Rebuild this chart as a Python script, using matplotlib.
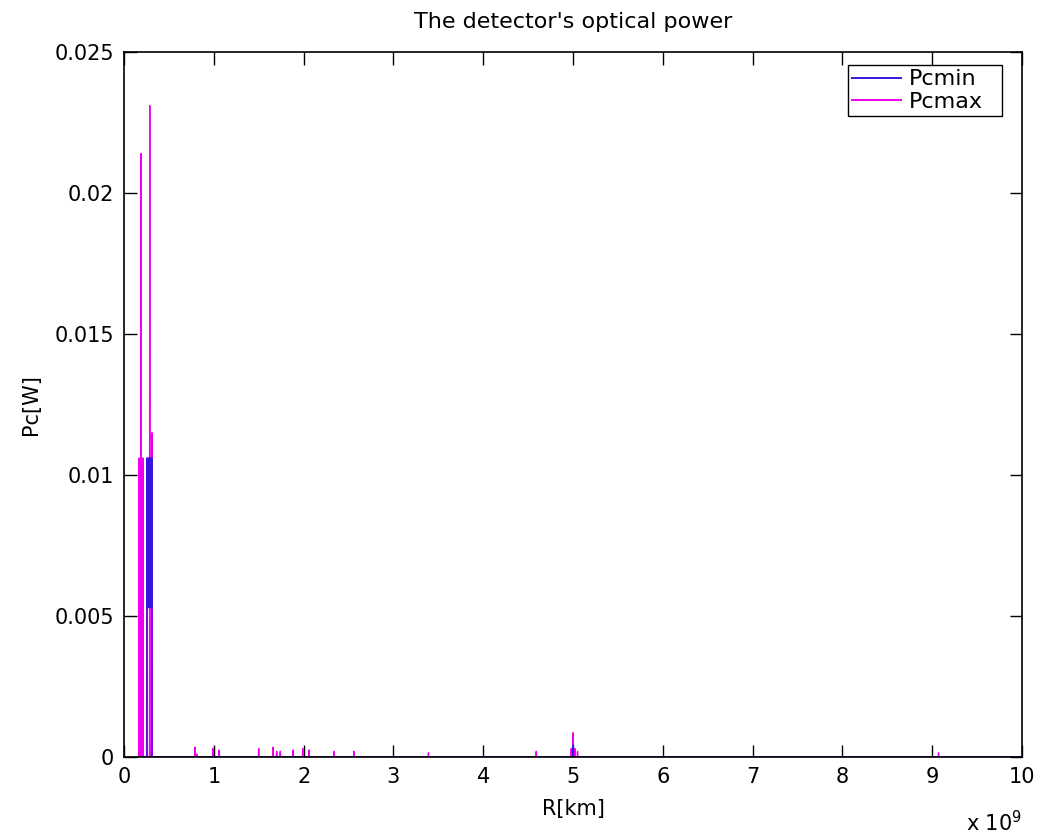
import matplotlib
matplotlib.use("Agg")
import matplotlib.pyplot as plt
from matplotlib.ticker import FuncFormatter

plt.rcParams['font.family'] = ['DejaVu Sans']

# R values in units of 1e9 km, power in W
r_pcmax = [0.150, 0.164, 0.166, 0.172, 0.178, 0.184, 0.189, 0.194, 0.200, 0.206, 0.212, 0.215,
           0.251, 0.254, 0.257, 0.284, 0.2865, 0.289, 0.308, 0.311, 0.314,
           0.786, 0.790, 0.794, 0.806, 0.810, 0.814,
           0.986, 0.990, 0.994, 1.056, 1.060, 1.064,
           1.496, 1.500, 1.504, 1.656, 1.660, 1.664, 1.696, 1.700, 1.704, 1.736, 1.740, 1.744,
           1.876, 1.880, 1.884, 1.986, 1.990, 1.994, 2.056, 2.060, 2.064,
           2.336, 2.340, 2.344, 2.556, 2.560, 2.564, 3.386, 3.390, 3.394, 4.586, 4.590, 4.594,
           4.976, 4.980, 4.984, 4.996, 5.000, 5.004, 5.016, 5.020, 5.024, 5.046, 5.050, 5.054,
           9.066, 9.070, 9.074, 10.0]
pc_max = [0.0, 0.0, 0.0106, 0.0, 0.0106, 0.0, 0.0214, 0.0, 0.0106, 0.0, 0.0106, 0.0,
          0.0, 0.0106, 0.0, 0.0, 0.0231, 0.0, 0.0, 0.0115, 0.0,
          0.0, 0.00035, 0.0, 0.0, 0.00010, 0.0,
          0.0, 0.00030, 0.0, 0.0, 0.00025, 0.0,
          0.0, 0.00030, 0.0, 0.0, 0.00035, 0.0, 0.0, 0.00020, 0.0, 0.0, 0.00020, 0.0,
          0.0, 0.00025, 0.0, 0.0, 0.00030, 0.0, 0.0, 0.00025, 0.0,
          0.0, 0.00020, 0.0, 0.0, 0.00020, 0.0, 0.0, 0.00015, 0.0, 0.0, 0.00020, 0.0,
          0.0, 0.00030, 0.0, 0.0, 0.00086, 0.0, 0.0, 0.00030, 0.0, 0.0, 0.00020, 0.0,
          0.0, 0.00015, 0.0, 0.0]

r_pcmin = [0.150, 0.2555, 0.2565, 0.260, 0.264, 0.268, 0.272, 0.276, 0.280, 0.284, 0.288,
           0.292, 0.296, 0.300, 0.304, 0.308, 0.3095, 0.3105,
           4.996, 5.000, 5.004, 10.0]
pc_min = [0.0, 0.0, 0.0106, 0.0053, 0.0106, 0.0053, 0.0106, 0.0053, 0.0106, 0.0053, 0.0106,
          0.0053, 0.0106, 0.0053, 0.0106, 0.0053, 0.0106, 0.0,
          0.0, 0.00043, 0.0, 0.0]

x_ticks = [0, 1, 2, 3, 4, 5, 6, 7, 8, 9, 10]
y_ticks = [0, 0.005, 0.01, 0.015, 0.02, 0.025]
y_tick_labels = ['0', '0.005', '0.01', '0.015', '0.02', '0.025']

SCALE = 1e9
FS = 15

fig = plt.figure(figsize=(10.37, 8.34), dpi=100)
ax = fig.add_axes([0.1196, 0.0923, 0.866, 0.8453])

ax.plot([v * SCALE for v in r_pcmin], pc_min, color='#3a14e0', linewidth=1.0, label='Pcmin', zorder=4)
ax.plot([v * SCALE for v in r_pcmax], pc_max, color='#ee00ee', linewidth=1.0, label='Pcmax', zorder=3)

ax.set_xlim(0, 10 * SCALE)
ax.set_ylim(0, 0.025)
ax.set_xticks([t * SCALE for t in x_ticks])
ax.xaxis.set_major_formatter(FuncFormatter(lambda v, p: f"{v / SCALE:g}"))
ax.set_yticks(y_ticks)
ax.set_yticklabels(y_tick_labels)

ax.tick_params(direction='in', length=9, width=1, top=True, right=True,
               labelsize=FS, pad=7, colors='black')
for s in ax.spines.values():
    s.set_linewidth(1.2)
    s.set_zorder(5)

ax.set_title("The detector's optical power", fontsize=16, pad=17)
ax.set_xlabel("R[km]", fontsize=FS, labelpad=9)
ax.set_ylabel("Pc[W]", fontsize=FS, labelpad=10)

ax.text(1.0, -0.093, r"x 10$^9$", transform=ax.transAxes, ha='right', va='center', fontsize=FS)

leg = ax.legend(loc='upper left', bbox_to_anchor=(0.806, 0.80, 0.172, 0.1816), mode='expand',
                fontsize=16, handlelength=2.2, handletextpad=0.35, fancybox=False, framealpha=1,
                edgecolor='black', borderaxespad=0, borderpad=0.2, labelspacing=0.1)
leg.get_frame().set_linewidth(1.0)
for line in leg.get_lines():
    line.set_linewidth(1.4)

fig.savefig("out.png", dpi=100, facecolor='white')
